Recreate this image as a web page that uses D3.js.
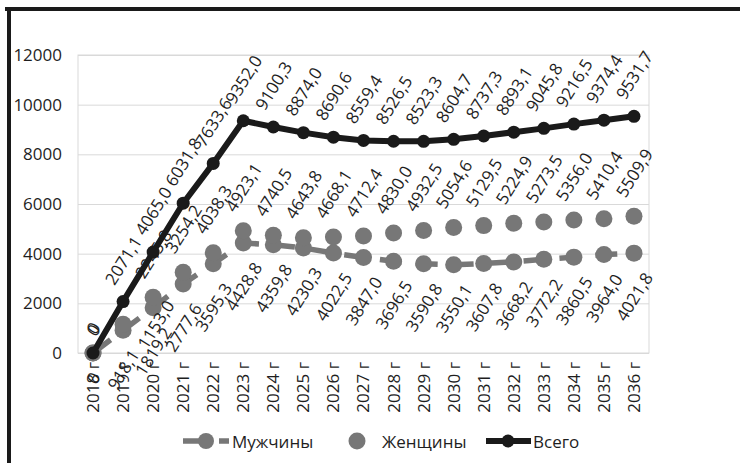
<!DOCTYPE html>
<html>
<head>
<meta charset="utf-8">
<script src="https://cdn.jsdelivr.net/npm/d3@7"></script>
<style>
	body { margin: 0; background: #fff; }
	svg { display: block; }
	text { font-family: "Open Sans", sans-serif; }
</style>
</head>
<body>
<div id="chart"></div>
<script>
"use strict"

//
// data
//
var years = ["2018 г", "2019 г", "2020 г", "2021 г", "2022 г", "2023 г", "2024 г", "2025 г", "2026 г", "2027 г",
	"2028 г", "2029 г", "2030 г", "2031 г", "2032 г", "2033 г", "2034 г", "2035 г", "2036 г"];
var men   = [0, 918.1, 1819.2, 2777.6, 3595.3, 4428.8, 4359.8, 4230.3, 4022.5, 3847.0,
	3696.5, 3590.8, 3550.1, 3607.8, 3668.2, 3772.2, 3860.5, 3964.0, 4021.8];
var women = [0, 1153.0, 2245.8, 3254.2, 4038.3, 4923.1, 4740.5, 4643.8, 4668.1, 4712.4,
	4830.0, 4932.5, 5054.6, 5129.5, 5224.9, 5273.5, 5356.0, 5410.4, 5509.9];
var total = [0, 2071.1, 4065.0, 6031.8, 7633.6, 9352.0, 9100.3, 8874.0, 8690.6, 8559.4,
	8526.5, 8523.3, 8604.7, 8737.3, 8893.1, 9045.8, 9216.5, 9374.4, 9531.7];
var yTicks = [0, 2000, 4000, 6000, 8000, 10000, 12000];
var seriesNames = ["Мужчины", "Женщины", "Всего"];

//
// layout
//
var W = 740, H = 463;
var plotL = 78, plotR = 649, plotT = 55, plotB = 353;
var FONT = 17;
var TEXT = "#1e1e1e";
var GREY = "#777777";
var BLACK = "#1a1a1a";
var ANGLE = 58;

var svg = d3.select("#chart").append("svg")
	.attr("width", W)
	.attr("height", H)
	;

var x = d3.scaleBand().domain(years).range([plotL, plotR]);
var y = d3.scaleLinear().domain([0, 12000]).range([plotB, plotT]);
function cx(i) { return x(years[i]) + x.bandwidth() / 2; }

function fmt(v) {
	if (v == 0) return "0";
	return d3.format(".1f")(v).replace(".", ",");
}

//
// frame round the picture
//
svg.append("line")
	.attr("x1", 5).attr("x2", W).attr("y1", 9).attr("y2", 9)
	.attr("stroke", BLACK).attr("stroke-width", 4)
	;
svg.append("line")
	.attr("x1", 9).attr("x2", 9).attr("y1", 7).attr("y2", H)
	.attr("stroke", BLACK).attr("stroke-width", 4)
	;

//
// grid and axes
//
svg.append("g")
	.attr("transform", "translate(" + plotL + ",0)")
	.call(d3.axisLeft(y).tickValues(yTicks).tickSize(-(plotR - plotL)).tickFormat(""))
	.call(function(g) {
		g.select(".domain").remove();
		g.selectAll("line").attr("stroke", "#d9d9d9").attr("stroke-width", 1);
	})
	;
svg.append("rect")
	.attr("x", plotL).attr("y", plotT)
	.attr("width", plotR - plotL).attr("height", plotB - plotT)
	.attr("fill", "none").attr("stroke", "#d9d9d9").attr("stroke-width", 1)
	;
svg.append("g")
	.attr("transform", "translate(" + plotL + ",0)")
	.call(d3.axisLeft(y).tickValues(yTicks).tickSize(0).tickPadding(16).tickFormat(d3.format("d")))
	.call(function(g) {
		g.select(".domain").remove();
		g.selectAll("text")
			.attr("font-family", "Open Sans")
			.attr("font-size", FONT)
			.attr("fill", TEXT);
	})
	;
svg.append("g")
	.attr("transform", "translate(0," + plotB + ")")
	.call(d3.axisBottom(x).tickSize(0))
	.call(function(g) {
		g.select(".domain").remove();
		g.selectAll("text")
			.attr("font-family", "Open Sans")
			.attr("font-size", FONT)
			.attr("fill", TEXT)
			.attr("transform", "rotate(-90)")
			.attr("text-anchor", "end")
			.attr("x", -9)
			.attr("y", 0)
			.attr("dy", "0.35em");
	})
	;

//
// data labels, rotated; placed off the marker like the spreadsheet does
//
var sideOverride = { "Женщины|1": "right" };

function addLabels(g, values, name, side, r) {
	var a = ANGLE * Math.PI / 180;
	var gap = 9;
	values.forEach(function(v, i) {
		var t = g.append("text")
			.attr("font-size", FONT)
			.attr("fill", TEXT)
			.attr("text-anchor", "middle")
			.attr("dominant-baseline", "central")
			.text(fmt(v))
			;
		var L = t.node().getComputedTextLength();
		var h = FONT * 0.75;
		var bw = L * Math.cos(a) + h * Math.sin(a);
		var bh = L * Math.sin(a) + h * Math.cos(a);
		var px = cx(i), py = y(v);
		var s = sideOverride[name + "|" + i] || side;
		var lx = px, ly = py;
		if (s == "above") ly = py - r - gap - bh / 2;
		else if (s == "below") ly = py + r + gap + bh / 2;
		else if (s == "right") lx = px + r + gap / 2 + bw / 2;
		t.attr("transform", "translate(" + lx + "," + ly + ") rotate(" + (-ANGLE) + ")");
	});
}

var line = d3.line()
	.x(function(d, i) { return cx(i); })
	.y(function(d) { return y(d); })
	;

// men: dashed grey line
var gMen = svg.append("g");
gMen.append("path")
	.attr("d", line(men))
	.attr("fill", "none")
	.attr("stroke", GREY)
	.attr("stroke-width", 5.5)
	.attr("stroke-dasharray", "22,14")
	;
gMen.selectAll("circle").data(men).enter().append("circle")
	.attr("cx", function(d, i) { return cx(i); })
	.attr("cy", function(d) { return y(d); })
	.attr("r", 8.5)
	.attr("fill", GREY)
	;
addLabels(gMen, men, seriesNames[0], "below", 8.5);

// women: markers only
var gWomen = svg.append("g");
gWomen.selectAll("circle").data(women).enter().append("circle")
	.attr("cx", function(d, i) { return cx(i); })
	.attr("cy", function(d) { return y(d); })
	.attr("r", 8.5)
	.attr("fill", GREY)
	;
addLabels(gWomen, women, seriesNames[1], "above", 8.5);

// total: heavy black line
var gTotal = svg.append("g");
gTotal.append("path")
	.attr("d", line(total))
	.attr("fill", "none")
	.attr("stroke", BLACK)
	.attr("stroke-width", 6)
	.attr("stroke-linejoin", "round")
	;
gTotal.selectAll("circle").data(total).enter().append("circle")
	.attr("cx", function(d, i) { return cx(i); })
	.attr("cy", function(d) { return y(d); })
	.attr("r", 6.5)
	.attr("fill", BLACK)
	;
addLabels(gTotal, total, seriesNames[2], "above", 6.5);

//
// legend
//
var ly = 441;
var lg = svg.append("g");
lg.append("line")
	.attr("x1", 183).attr("x2", 229).attr("y1", ly).attr("y2", ly)
	.attr("stroke", GREY).attr("stroke-width", 5.5)
	.attr("stroke-dasharray", "22,14")
	;
lg.append("circle").attr("cx", 206).attr("cy", ly).attr("r", 8).attr("fill", GREY);
lg.append("circle").attr("cx", 357).attr("cy", ly).attr("r", 8.5).attr("fill", GREY);
lg.append("line")
	.attr("x1", 486).attr("x2", 531).attr("y1", ly).attr("y2", ly)
	.attr("stroke", BLACK).attr("stroke-width", 6)
	;
lg.append("circle").attr("cx", 508).attr("cy", ly).attr("r", 6.5).attr("fill", BLACK);
var legendX = [232, 382, 533];
lg.selectAll("text").data(seriesNames).enter().append("text")
	.attr("x", function(d, i) { return legendX[i]; })
	.attr("y", ly)
	.attr("dominant-baseline", "central")
	.attr("font-size", FONT)
	.attr("fill", TEXT)
	.text(function(d) { return d; })
	;
</script>
</body>
</html>
